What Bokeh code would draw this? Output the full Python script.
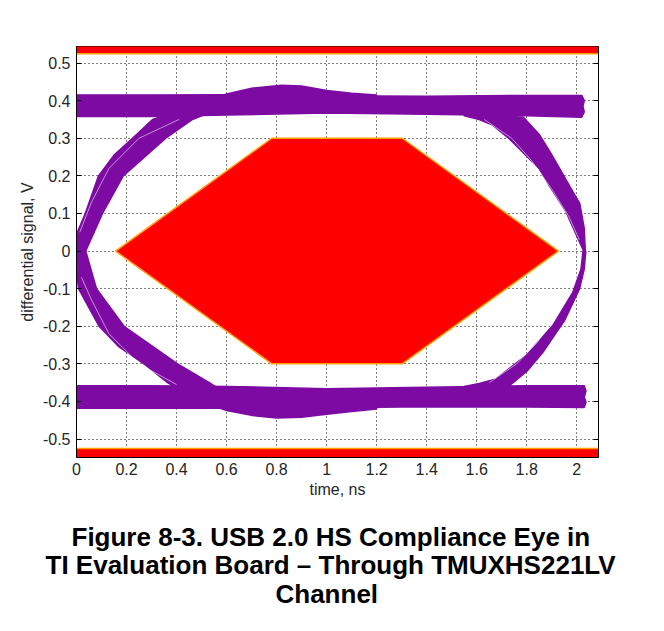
from bokeh.plotting import figure
from bokeh.models import FixedTicker, LinearAxis, Title, Range1d
from bokeh.embed import file_html
from bokeh.resources import INLINE

# ---------------- data ----------------
x_ticks = [0, 0.2, 0.4, 0.6, 0.8, 1.0, 1.2, 1.4, 1.6, 1.8, 2.0]
x_tick_labels = ["0", "0.2", "0.4", "0.6", "0.8", "1", "1.2", "1.4", "1.6", "1.8", "2"]
y_ticks = [-0.5, -0.4, -0.3, -0.2, -0.1, 0, 0.1, 0.2, 0.3, 0.4, 0.5]
y_tick_labels = ["-0.5", "-0.4", "-0.3", "-0.2", "-0.1", "0", "0.1", "0.2", "0.3", "0.4", "0.5"]

# compliance mask (hexagon), ns / V
mask_t = [0.156, 0.781, 1.302, 1.927, 1.302, 0.781]
mask_v = [0.0, 0.3, 0.3, 0.0, -0.3, -0.3]
limit_v = 0.525  # upper / lower limit bands at +-0.525 V

# eye trace bands (outline polygons)
rail_hi_t = [-0.03, 0.3, 0.6, 1.0, 1.4, 1.8, 2.02, 2.03, 2.025, 2.03, 2.02, 1.8, 1.4, 1.0, 0.6, 0.3, -0.03]
rail_hi_v = [0.415, 0.415, 0.416, 0.413, 0.412, 0.414, 0.414, 0.40, 0.385, 0.37, 0.356, 0.36, 0.364, 0.367, 0.362, 0.358, 0.358]

rail_lo_t = [-0.03, 0.3, 0.6, 1.0, 1.4, 1.8, 2.03, 2.037, 2.03, 2.037, 2.03, 1.8, 1.4, 1.0, 0.6, 0.3, -0.03]
rail_lo_v = [-0.358, -0.358, -0.36, -0.366, -0.362, -0.358, -0.358, -0.372, -0.388, -0.402, -0.416, -0.415, -0.414, -0.417, -0.418, -0.418, -0.418]

rise_l_t = [-0.03, 0.0, 0.035, 0.088, 0.15, 0.224, 0.304, 0.4, 0.5, 0.6, 0.7, 0.82, 0.9, 1.0, 1.1, 1.2,
            1.2, 0.6, 0.5, 0.464, 0.357, 0.187, 0.104, 0.037, -0.03]
rise_l_v = [0.0, 0.045, 0.1, 0.2, 0.255, 0.3, 0.35, 0.371, 0.395, 0.418, 0.433, 0.441, 0.439, 0.427, 0.42, 0.415,
            0.39, 0.38, 0.36, 0.35, 0.3, 0.2, 0.1, 0.0, -0.01]

fall_l_t = [-0.03, 0.0, 0.008, 0.09, 0.17, 0.27, 0.364, 0.45, 0.52, 0.6, 0.7, 0.8, 0.9, 1.0, 1.1, 1.2,
            1.2, 0.6, 0.531, 0.404, 0.19, 0.08, 0.037, -0.03]
fall_l_v = [0.0, -0.05, -0.1, -0.2, -0.255, -0.3, -0.35, -0.385, -0.405, -0.424, -0.437, -0.444, -0.442, -0.434, -0.427, -0.42,
            -0.39, -0.38, -0.35, -0.3, -0.2, -0.1, 0.0, 0.01]

fall_r_t = [1.55, 1.787, 1.85, 1.897, 1.974, 2.012, 2.03, 2.035,
            2.024, 1.97, 1.957, 1.89, 1.851, 1.797, 1.731, 1.664, 1.61, 1.55]
fall_r_v = [0.365, 0.356, 0.31, 0.26, 0.17, 0.127, 0.06, -0.01,
            0.005, 0.085, 0.105, 0.174, 0.218, 0.254, 0.298, 0.335, 0.35, 0.36]

rise_r_t = [1.55, 1.731, 1.80, 1.864, 1.951, 2.011, 2.03, 2.036,
            2.025, 2.017, 1.984, 1.904, 1.797, 1.677, 1.61, 1.55]
rise_r_v = [-0.365, -0.358, -0.32, -0.27, -0.185, -0.101, -0.048, 0.0,
            0.0, -0.048, -0.11, -0.198, -0.278, -0.34, -0.352, -0.36]

# light streaks inside the trace bundles
streak_ts = [
    [0.013, 0.06, 0.13, 0.25, 0.41],
    [0.02, 0.06, 0.13, 0.25, 0.40],
    [1.63, 1.74, 1.82, 1.90, 1.97, 2.01],
    [1.65, 1.76, 1.84, 1.92, 1.98, 2.01],
]
streak_vs = [
    [0.05, 0.13, 0.22, 0.30, 0.35],
    [-0.07, -0.13, -0.22, -0.30, -0.355],
    [0.35, 0.30, 0.24, 0.165, 0.09, 0.03],
    [-0.35, -0.30, -0.245, -0.17, -0.10, -0.05],
]

title_lines = ["Figure 8-3. USB 2.0 HS Compliance Eye in",
               "TI Evaluation Board \u2013 Through TMUXHS221LV",
               "Channel"]

# ---------------- figure ----------------
FONT = "Liberation Sans"
PURPLE = "#7d0aa3"
RED = "#ff0000"
EDGE = "#ffa000"
TXT = "#262626"

p = figure(width=656, height=623, output_backend="svg", toolbar_location=None,
           x_range=Range1d(0, 2.087), y_range=Range1d(-0.549, 0.544),
           min_border_left=76, min_border_right=58, min_border_top=46, min_border_bottom=166,
           x_axis_label="time, ns", y_axis_label="differential signal, V")
p.background_fill_color = "white"
p.border_fill_color = "white"
p.outline_line_color = "black"
p.outline_line_width = 1

# limit bands
p.quad(left=-0.2, right=2.3, bottom=limit_v, top=0.8, fill_color=RED, line_color=EDGE, line_width=1.5)
p.quad(left=-0.2, right=2.3, bottom=-0.8, top=-limit_v, fill_color=RED, line_color=EDGE, line_width=1.5)

# eye traces
p.patches(xs=[rail_hi_t, rail_lo_t, rise_l_t, fall_l_t, fall_r_t, rise_r_t],
          ys=[rail_hi_v, rail_lo_v, rise_l_v, fall_l_v, fall_r_v, rise_r_v],
          fill_color=PURPLE, line_color=PURPLE, line_width=1.5)
p.multi_line(xs=streak_ts, ys=streak_vs, line_color="white", line_alpha=0.55, line_width=1)

# mask
p.patch(mask_t, mask_v, fill_color=RED, line_color=EDGE, line_width=1.5)

# axes
for ax in (p.xaxis[0], p.yaxis[0]):
    ax.axis_line_color = "black"
    ax.major_tick_line_color = "black"
    ax.minor_tick_line_color = None
    ax.major_tick_out = 0
    ax.major_label_text_font = FONT
    ax.major_label_text_font_size = "16px"
    ax.major_label_text_color = TXT
    ax.axis_label_text_font = FONT
    ax.axis_label_text_font_size = "16px"
    ax.axis_label_text_font_style = "normal"
    ax.axis_label_text_color = TXT

p.xaxis[0].ticker = FixedTicker(ticks=x_ticks)
p.xaxis[0].major_label_overrides = dict(zip(x_ticks, x_tick_labels))
p.xaxis[0].major_tick_in = 0
p.xaxis[0].major_label_standoff = 5
p.xaxis[0].axis_label_standoff = 3

p.yaxis[0].ticker = FixedTicker(ticks=y_ticks)
p.yaxis[0].major_label_overrides = dict(zip(y_ticks, y_tick_labels))
p.yaxis[0].major_tick_in = 5
p.yaxis[0].major_label_standoff = 6
p.yaxis[0].axis_label_standoff = 4

right = LinearAxis(ticker=FixedTicker(ticks=y_ticks), major_label_text_color=None,
                   major_tick_in=5, major_tick_out=0, minor_tick_line_color=None,
                   axis_line_color="black", major_tick_line_color="black")
p.add_layout(right, "right")

# grid
p.xgrid.ticker = FixedTicker(ticks=x_ticks)
p.ygrid.ticker = FixedTicker(ticks=y_ticks)
for g in (p.xgrid[0], p.ygrid[0]):
    g.grid_line_color = "black"
    g.grid_line_dash = "1 3"
    g.grid_line_width = 1

# caption (three bold lines below the plot), preceded by a blank spacer
p.add_layout(Title(text=" ", text_font_size="10px", standoff=7), "below")
title_offsets = [-5, -31, 199]
title_standoffs = [-2, -5, -2]
for txt, off, so in zip(title_lines, title_offsets, title_standoffs):
    p.add_layout(Title(text=txt, align="left", offset=off, standoff=so,
                       text_font=FONT, text_font_size="26px", text_font_style="bold",
                       text_color="black"), "below")

open("out.html", "w").write(file_html(p, INLINE))
